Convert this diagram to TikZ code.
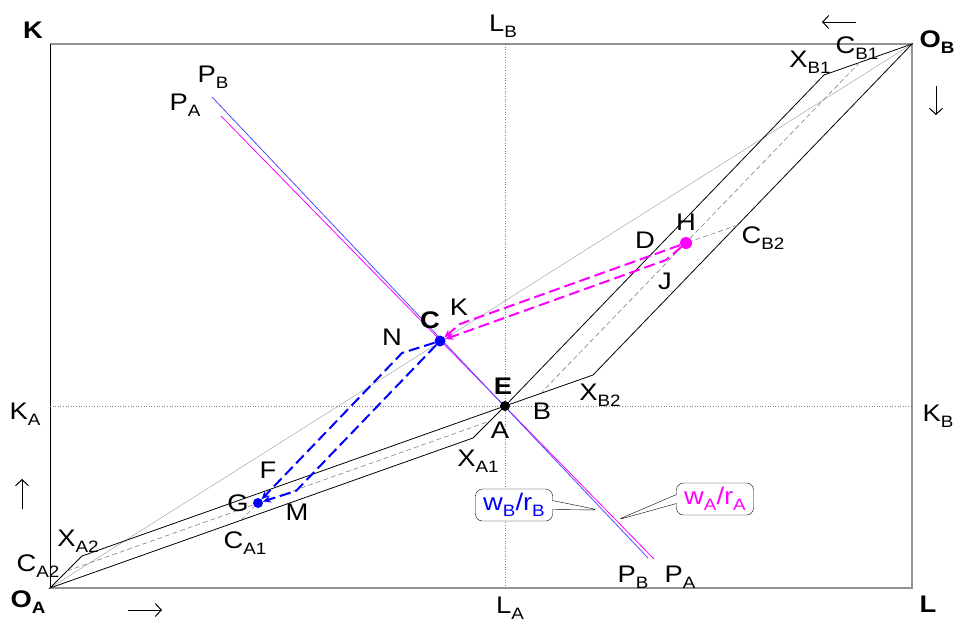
\documentclass[tikz,border=0pt]{standalone}
\usepackage{fontspec}
\setmainfont{Liberation Sans}[FakeStretch=1.14]
\usepackage{tikz}
\usetikzlibrary{arrows.meta, shapes.callouts}
\definecolor{tradeA}{RGB}{255,0,255}
\definecolor{tradeB}{RGB}{0,0,255}
\newcommand{\sbs}[1]{\raisebox{-0.25em}{\fontsize{16.5}{17}\selectfont #1}}

\begin{document}
\begin{tikzpicture}[
    x=1pt,y=-1pt,
    lbl/.style={font=\fontsize{24}{25}\selectfont,inner sep=0pt},
    blbl/.style={font=\fontsize{24}{25}\selectfont\bfseries,inner sep=0pt},
    edge/.style={black,line width=0.8pt},
    guide/.style={gray,line width=0.6pt,dash pattern=on 5pt off 3pt},
    trade/.style={line width=2pt,dash pattern=on 11pt off 5pt,-{Stealth[length=8pt,width=7pt]}},
    dirarrow/.style={black,line width=1pt,-{Straight Barb[length=6pt,width=13pt]}},
    dotnode/.style={circle,inner sep=0pt,minimum size=11pt},
    bubble/.style={rectangle callout,draw,rounded corners=7pt,fill=white,
      font=\fontsize{24}{25}\selectfont,minimum width=77pt,minimum height=32pt,
      callout pointer width=9pt}
  ]
  \useasboundingbox (0,0) rectangle (954,625);

  % box
  \coordinate (oA) at (50,588);
  \coordinate (oB) at (912,44);
  \coordinate (tl) at (50,44);
  \coordinate (br) at (912,588);
  \draw[gray!85,line width=1.4pt] (tl) -- (oB) -- (br) -- (oA);
  \draw[black,line width=0.6pt] (oA) -- (tl);

  % endowment cross
  \coordinate (lB) at (505,44);
  \coordinate (lA) at (505,588);
  \coordinate (kA) at (50,406);
  \coordinate (kB) at (912,406);
  \draw[gray,dotted,line width=0.6pt] (lB) -- (lA);
  \draw[gray,dotted,line width=0.6pt] (kA) -- (kB);
  \draw[gray!70,line width=0.5pt] (oA) -- (oB);

  % A side
  \coordinate (xA1) at (473,438);
  \coordinate (xA2) at (82,556);
  \coordinate (cA1) at (241,520);
  \coordinate (cA2) at (67,571);
  \coordinate (pA) at (490,421);
  \coordinate (E0) at (505,406);
  \draw[edge] (oA) -- (xA1) -- (E0) -- (xA2) -- cycle;
  \draw[guide] (cA2) -- (pA);

  % B side
  \coordinate (xB1) at (824,75);
  \coordinate (xB2) at (593,375);
  \coordinate (cB1) at (860,62);
  \coordinate (cB2) at (738,225);
  \coordinate (pB) at (541,393);
  \draw[edge] (oB) -- (xB1) -- (E0) -- (xB2) -- cycle;
  \draw[guide] (cB1) -- (pB);

  % price lines
  \coordinate (pbTop) at (212,97);
  \coordinate (pbBot) at (648,558);
  \coordinate (paTop) at (221,116);
  \coordinate (paBot) at (654,559);
  \draw[tradeA,line width=0.8pt] (paTop) -- (paBot);
  \draw[tradeB!70,line width=0.8pt] (pbTop) -- (pbBot);

  % points
  \node[dotnode,fill=tradeB] (C) at (440,341) {};
  \node[dotnode,fill=tradeB,minimum size=10pt] (G) at (258,503) {};
  \node[dotnode,fill=tradeA,minimum size=12pt] (H) at (686,243) {};
  \node[dotnode,fill=black,minimum size=10pt] (E) at (E0) {};
  \draw[guide] (cA1) -- (G);
  \draw[guide] (cB2) -- (H);

  % trades
  \coordinate (N) at (402,353);
  \coordinate (M) at (296,491);
  \coordinate (K) at (460,324);
  \coordinate (J) at (666,260);
  \draw[trade,tradeB] (C) -- (N) -- (G);
  \draw[trade,tradeB] (C) -- (M) -- (G);
  \draw[trade,tradeA] (H) -- (K) -- (C);
  \draw[trade,tradeA] (H) -- (J) -- (C);

  % direction arrows
  \coordinate (arLa) at (856,22);
  \coordinate (arLb) at (822,22);
  \coordinate (arDa) at (936,86);
  \coordinate (arDb) at (936,115);
  \coordinate (arUa) at (22,509);
  \coordinate (arUb) at (22,479);
  \coordinate (arRa) at (128,610);
  \coordinate (arRb) at (162,610);
  \draw[dirarrow] (arLa) -- (arLb);
  \draw[dirarrow] (arDa) -- (arDb);
  \draw[dirarrow] (arUa) -- (arUb);
  \draw[dirarrow] (arRa) -- (arRb);

  % axis labels
  \node[blbl] (lblK) at (33,30) {K};
  \node[lbl] (lblLB) at (503,26) {L\sbs{B}};
  \node[blbl] (lblOB) at (937,42) {O\sbs{B}};
  \node[lbl] (lblKA) at (25,414) {K\sbs{A}};
  \node[lbl] (lblKB) at (938,416) {K\sbs{B}};
  \node[blbl] (lblOA) at (28,602) {O\sbs{A}};
  \node[lbl] (lblLA) at (510,608) {L\sbs{A}};
  \node[blbl] (lblL) at (928,604) {L};

  % price labels
  \node[lbl] (lblPB1) at (213,77) {P\sbs{B}};
  \node[lbl] (lblPA1) at (185,105) {P\sbs{A}};
  \node[lbl] (lblPB2) at (633,577) {P\sbs{B}};
  \node[lbl] (lblPA2) at (680,577) {P\sbs{A}};

  % point labels
  \node[lbl] (lblXB1) at (810,62) {X\sbs{B1}};
  \node[lbl] (lblCB1) at (857,48) {C\sbs{B1}};
  \node[lbl] (lblH) at (686,222) {H};
  \node[lbl] (lblD) at (645,240) {D};
  \node[lbl] (lblCB2) at (763,238) {C\sbs{B2}};
  \node[lbl] (lblJ) at (665,281) {J};
  \node[lbl] (lblKp) at (459,307) {K};
  \node[blbl] (lblC) at (430,320) {C};
  \node[lbl] (lblN) at (392,337) {N};
  \node[blbl] (lblE) at (503,386) {E};
  \node[lbl] (lblB) at (542,411) {B};
  \node[lbl] (lblA) at (500,430) {A};
  \node[lbl] (lblXB2) at (600,395) {X\sbs{B2}};
  \node[lbl] (lblXA1) at (478,461) {X\sbs{A1}};
  \node[lbl] (lblF) at (268,470) {F};
  \node[lbl] (lblG) at (238,503) {G};
  \node[lbl] (lblM) at (297,512) {M};
  \node[lbl] (lblCA1) at (245,543) {C\sbs{A1}};
  \node[lbl] (lblXA2) at (78,541) {X\sbs{A2}};
  \node[lbl] (lblCA2) at (38,566) {C\sbs{A2}};

  % callouts
  \coordinate (tipB) at (599,510);
  \coordinate (tipA) at (617,520);
  \node[bubble,text=tradeB,callout absolute pointer={(tipB)}] (wB) at (514,505) {w\sbs{B}/r\sbs{B}};
  \node[bubble,text=tradeA,callout absolute pointer={(tipA)}] (wA) at (715,499) {w\sbs{A}/r\sbs{A}};
\end{tikzpicture}
\end{document}
